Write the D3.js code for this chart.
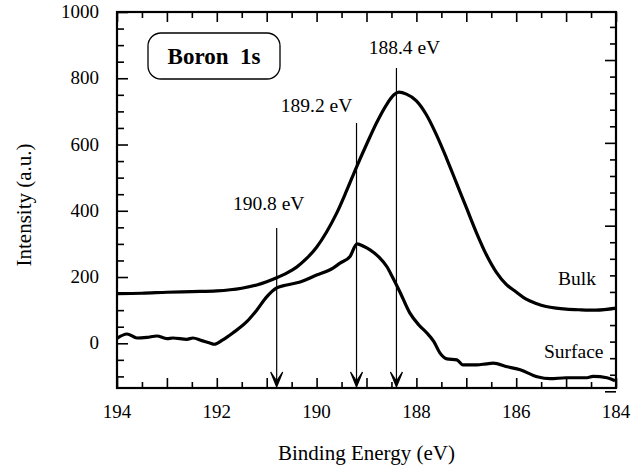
<!DOCTYPE html>
<html>
<head>
<meta charset="utf-8">
<script src="https://cdn.jsdelivr.net/npm/d3@7"></script>
</head>
<body style="margin:0">
<script>
// binding energy (eV) / intensity (a.u.)
var bulkEnergy = [194.0, 193.5, 193.0, 192.5, 192.0, 191.5, 191.2, 191.0, 190.8, 190.6, 190.4, 190.2, 190.0, 189.8, 189.6, 189.4, 189.2, 189.0, 188.8, 188.6, 188.45, 188.35, 188.2, 188.0, 187.8, 187.6, 187.4, 187.2, 187.0, 186.8, 186.6, 186.4, 186.2, 186.0, 185.8, 185.6, 185.4, 185.2, 185.0, 184.7, 184.4, 184.0];
var bulkValue  = [150, 151, 154, 156, 158, 166, 176, 186, 198, 212, 230, 256, 290, 336, 392, 460, 532, 600, 665, 720, 750, 758, 752, 732, 690, 630, 560, 485, 410, 335, 268, 215, 178, 155, 133, 120, 111, 106, 103, 101, 100, 106];

var surfEnergy = [194.0, 193.8, 193.6, 193.4, 193.2, 193.0, 192.88, 192.6, 192.48, 192.3, 192.14, 192.05, 191.88, 191.68, 191.4, 191.2, 191.0, 190.8, 190.6, 190.33, 190.0, 189.67, 189.53, 189.33, 189.19, 189.05, 188.93, 188.75, 188.59, 188.47, 188.33, 188.13, 187.95, 187.79, 187.65, 187.53, 187.39, 187.19, 187.07, 186.79, 186.6, 186.46, 186.18, 185.92, 185.58, 185.32, 185.0, 184.58, 184.46, 184.18, 184.02];
var surfValue  = [15, 28, 16, 18, 22, 14, 16, 12, 16, 8, 1, -3, 10, 31, 65, 100, 140, 167, 176, 185, 206, 227, 242, 262, 300, 292, 282, 260, 231, 197, 155, 91, 55, 31, 5, -29, -47, -50, -65, -65, -62, -60, -71, -80, -101, -107, -104, -104, -100, -104, -113];

var peakEnergy = [190.8, 189.2, 188.4];
var peakLabels = ["190.8 eV", "189.2 eV", "188.4 eV"];
var peakTop    = [348, 665, 831];   // where each marker line starts (a.u.)

var xTickLabels = [194, 192, 190, 188, 186, 184];
var yTickLabels = [0, 200, 400, 600, 800, 1000];

var width = 642, height = 468;
var margin = {top: 12, right: 26, bottom: 80, left: 117};
var w = width - margin.left - margin.right;
var h = height - margin.top - margin.bottom;

var x = d3.scaleLinear().domain([194, 184]).range([0, w]);
var y = d3.scaleLinear().domain([-135, 1000]).range([h, 0]);

var svg = d3.select('body').append('svg')
  .attr('width', width)
  .attr('height', height);
var g = svg.append('g')
  .attr('transform', 'translate(' + margin.left + ',' + margin.top + ')');

// every label goes through here so the serif face sticks
function serif(sel, size) {
  return sel.style('font-family', "'Liberation Serif'")
    .style('font-size', size + 'px')
    .attr('fill', '#000');
}

/* ---------- axes (ticks point inward) ---------- */
var minorX = d3.range(184, 194.01, 0.5);
function tickLen(v, big, small) { return Math.abs(v - Math.round(v)) < 1e-6 ? big : small; }

var xb = g.append('g').attr('transform', 'translate(0,' + h + ')')
  .call(d3.axisBottom(x).tickValues(minorX).tickSizeOuter(0).tickFormat(''));
xb.selectAll('.tick line').attr('y2', d => -tickLen(d, 10, 6));

var xt = g.append('g')
  .call(d3.axisTop(x).tickValues(minorX).tickSizeOuter(0).tickFormat(''));
xt.selectAll('.tick line').attr('y2', d => tickLen(d, 10, 6));

var minorY = d3.range(-100, 1001, 50);
var yl = g.append('g')
  .call(d3.axisLeft(y).tickValues(minorY).tickSizeOuter(0).tickFormat(''));
yl.selectAll('.tick line').attr('x2', d => d % 200 === 0 ? 11 : 7);

// right axis carries its own unlabeled tick set
var rightTicks = d3.range(-145, 1000, 50);
var yr = g.append('g').attr('transform', 'translate(' + w + ',0)')
  .call(d3.axisRight(y).tickValues(rightTicks).tickSizeOuter(0).tickFormat(''));
yr.selectAll('.tick line').attr('x2', d => (d - 105) % 250 === 0 ? -11 : -6);

g.selectAll('.domain').remove();
g.selectAll('.tick line').attr('stroke', '#000').attr('stroke-width', 1.6);

// tick labels kept outside the axis groups
serif(g.selectAll('.xlab').data(xTickLabels).enter().append('text')
  .attr('class', 'xlab')
  .attr('x', d => x(d)).attr('y', h + 30)
  .attr('text-anchor', 'middle')
  .text(d => d), 19);
serif(g.selectAll('.ylab').data(yTickLabels).enter().append('text')
  .attr('class', 'ylab')
  .attr('x', -18).attr('y', d => y(d) + 6)
  .attr('text-anchor', 'end')
  .text(d => d), 19);

g.append('rect')
  .attr('x', 0).attr('y', 0).attr('width', w).attr('height', h)
  .attr('fill', 'none').attr('stroke', '#000').attr('stroke-width', 2.2);

/* ---------- curves ---------- */
var bulk = bulkEnergy.map((e, i) => ({e: e, v: bulkValue[i]}));
var surf = surfEnergy.map((e, i) => ({e: e, v: surfValue[i]}));

var line = d3.line().x(d => x(d.e)).y(d => y(d.v)).curve(d3.curveMonotoneX);

g.append('path').attr('d', line(bulk))
  .attr('fill', 'none').attr('stroke', '#000').attr('stroke-width', 3.2)
  .attr('stroke-linejoin', 'round');
g.append('path').attr('d', line(surf))
  .attr('fill', 'none').attr('stroke', '#000').attr('stroke-width', 3.2)
  .attr('stroke-linejoin', 'round');

/* ---------- peak markers ---------- */
var labelDx = [-8, -40, 8];
var labelDy = [-18, -11, -14];
peakEnergy.forEach(function(e, i) {
  var px = x(e);
  g.append('line')
    .attr('x1', px).attr('x2', px)
    .attr('y1', y(peakTop[i])).attr('y2', h - 4)
    .attr('stroke', '#000').attr('stroke-width', 1.2);
  g.append('path')
    .attr('d', 'M' + (px - 6) + ',' + (h - 16) + 'L' + px + ',' + (h - 1) + 'L' + (px + 6) + ',' + (h - 16) +
               'L' + px + ',' + (h - 7) + 'Z')
    .attr('fill', '#000').attr('stroke', '#000').attr('stroke-width', 1.2);
  serif(g.append('text')
    .attr('x', px + labelDx[i]).attr('y', y(peakTop[i]) + labelDy[i])
    .attr('text-anchor', 'middle')
    .text(peakLabels[i]), 19.5);
});

/* ---------- labels ---------- */
serif(g.append('text').attr('x', x(184.4)).attr('y', y(175))
  .attr('text-anchor', 'end').text('Bulk'), 19.5);
serif(g.append('text').attr('x', x(184.25)).attr('y', y(-43))
  .attr('text-anchor', 'end').text('Surface'), 19.5);

g.append('rect')
  .attr('x', 31).attr('y', 21).attr('width', 132).attr('height', 46)
  .attr('rx', 13).attr('ry', 13)
  .attr('fill', 'none').attr('stroke', '#000').attr('stroke-width', 1.3);
serif(g.append('text').attr('x', 97).attr('y', 52)
  .attr('text-anchor', 'middle')
  .style('font-weight', 'bold').style('white-space', 'pre')
  .text('Boron  1s'), 23);

serif(svg.append('text')
  .attr('x', margin.left + w / 2).attr('y', 460)
  .attr('text-anchor', 'middle')
  .text('Binding Energy (eV)'), 21);
serif(svg.append('text')
  .attr('transform', 'translate(31,205) rotate(-90)')
  .attr('text-anchor', 'middle')
  .text('Intensity (a.u.)'), 21);
</script>
</body>
</html>
